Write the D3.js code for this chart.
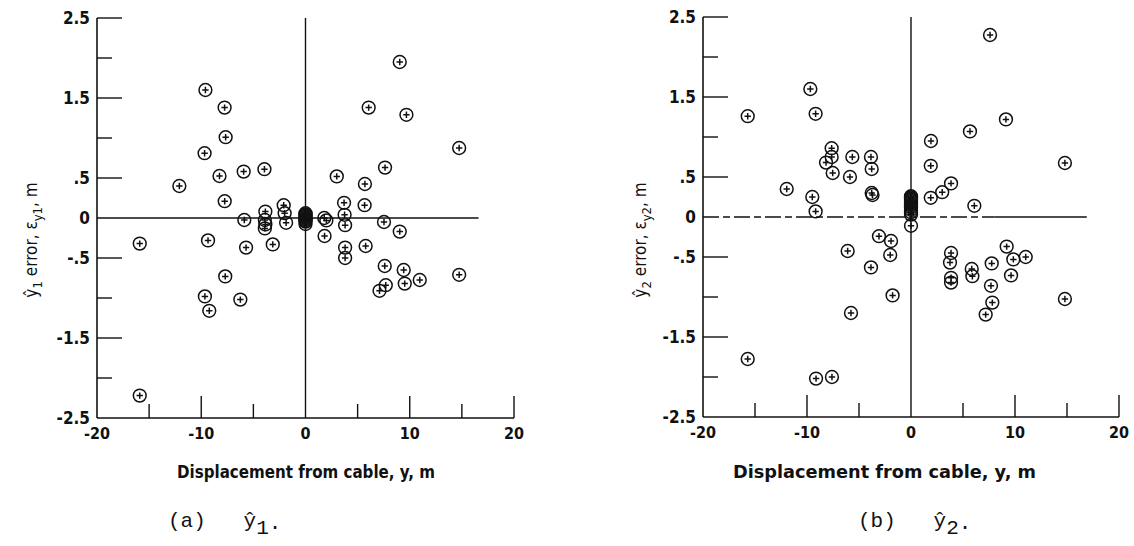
<!DOCTYPE html>
<html>
<head>
<meta charset="utf-8">
<script src="https://cdn.jsdelivr.net/npm/d3@7"></script>
<style>
  html, body { margin: 0; padding: 0; background: #fff; }
  svg { display: block; }
  .lbl { font-family: 'Liberation Sans Narrow', 'DejaVu Sans Condensed', 'Arial Narrow', sans-serif; font-weight: bold; fill: #111; }
  .ttl { font-family: 'DejaVu Sans Condensed', 'Liberation Sans Narrow', sans-serif; font-weight: normal; fill: #111; }
  .cap { font-family: 'Liberation Mono', 'DejaVu Sans Mono', monospace; fill: #111; }
</style>
</head>
<body>
<svg id="chart" width="1134" height="546"></svg>
<script>
// Displacement from cable (m) and estimator error (m) for y-hat 1
const y1Disp = [
  -9.6, -7.76, -7.66, -9.68, -8.25, -5.93, -3.94, -12.1, -7.75, -5.87,
  -3.85, -3.9, -3.85, -3.9, -2.09, -2.0, -1.86, -15.9, -9.35, -5.7,
  -3.14, -7.7, -9.65, -6.25, -9.23, -15.9,
  0, 0, 0, 0, 0, 0, 0, 0, 0,
  1.8, 2.0, 1.83, 3.0, 3.7, 3.75, 3.8, 3.8, 3.8, 5.7,
  5.67, 5.77, 6.06, 9.04, 9.68, 14.74, 7.63, 7.53, 9.04, 7.6,
  9.42, 7.7, 7.1, 9.52, 10.96, 14.74
];
const y1Err = [
  1.60, 1.38, 1.01, 0.81, 0.525, 0.58, 0.61, 0.40, 0.21, -0.025,
  0.08, -0.025, -0.08, -0.13, 0.16, 0.06, -0.06, -0.32, -0.28, -0.37,
  -0.33, -0.73, -0.98, -1.02, -1.16, -2.22,
  0.06, 0.045, 0.03, 0.015, 0.0, -0.015, -0.03, -0.045, -0.075,
  0.0, -0.03, -0.225, 0.52, 0.19, 0.04, -0.09, -0.37, -0.50, 0.425,
  0.16, -0.35, 1.38, 1.95, 1.29, 0.875, 0.63, -0.05, -0.17, -0.6,
  -0.65, -0.84, -0.91, -0.82, -0.775, -0.71
];

// Displacement from cable (m) and estimator error (m) for y-hat 2
const y2Disp = [
  -9.68, -9.17, -15.7, -7.63, -7.63, -8.17, -5.64, -3.85, -3.78, -7.53,
  -5.87, -11.95, -9.49, -9.17, -3.78, -3.7, -3.08, -1.92, -2.0, -6.09,
  -3.85, -1.77, -5.77, -15.7, -9.13, -7.6,
  0, 0, 0, 0, 0, 0, 0, 0, 0, 0, 0, 0, 0,
  1.92, 1.9, 3.85, 3.0, 1.9, 6.09, 5.67, 9.13, 7.6, 14.8,
  3.85, 3.75, 3.85, 3.85, 5.84, 5.9, 7.76, 9.2, 9.84, 11.03,
  9.62, 7.69, 7.82, 7.18, 14.8
];
const y2Err = [
  1.60, 1.29, 1.26, 0.86, 0.75, 0.68, 0.75, 0.75, 0.60, 0.55,
  0.50, 0.35, 0.25, 0.07, 0.30, 0.275, -0.24, -0.30, -0.475, -0.425,
  -0.63, -0.98, -1.2, -1.775, -2.02, -2.0,
  0.26, 0.245, 0.23, 0.215, 0.20, 0.18, 0.16, 0.14, 0.12, 0.09, 0.06, 0.03, -0.11,
  0.95, 0.64, 0.42, 0.31, 0.24, 0.14, 1.07, 1.22, 2.275, 0.675,
  -0.45, -0.57, -0.76, -0.82, -0.65, -0.74, -0.58, -0.37, -0.53, -0.50,
  -0.73, -0.86, -1.07, -1.22, -1.025
];

// Axis ticks and labels
const xTickLabels = [-20, -10, 0, 10, 20];
const xMajorTicks = [-10, 10, 20];
const xMinorTicks = [-15, -5, 5, 15];
const yTickLabels = [2.5, 1.5, 0.5, 0, -0.5, -1.5, -2.5];
const yMajorTicks = [2.5, 1.5, 0.5, -0.5, -1.5];
const yMinorTicks = [2, 1, -1, -2];

const xTitle = "Displacement from cable, y, m";

const svg = d3.select("#chart");

// "-.5", ".5", "1.5" style labels without leading zero
const fmtY = v => v === 0 ? "0" : String(v).replace("0.", ".");

function drawPanel(opt) {
  const x = d3.scaleLinear().domain([-20, 20]).range([opt.left, opt.right]);
  const y = d3.scaleLinear().domain([-2.5, 2.5]).range([opt.bottom, opt.top]);
  const g = svg.append("g");
  const ink = "#111";

  // frame: left and bottom axis lines
  g.append("line").attr("x1", x(-20)).attr("x2", x(-20)).attr("y1", y(2.5)).attr("y2", y(-2.5))
    .attr("stroke", ink).attr("stroke-width", 1.6);
  g.append("line").attr("x1", x(-20)).attr("x2", x(20)).attr("y1", y(-2.5)).attr("y2", y(-2.5))
    .attr("stroke", ink).attr("stroke-width", 1.6);

  // zero reference lines
  g.append("line").attr("x1", x(0)).attr("x2", x(0)).attr("y1", y(2.5)).attr("y2", y(-2.5))
    .attr("stroke", ink).attr("stroke-width", 1.4);
  if (opt.dashedZero) {
    g.append("line").attr("x1", x(-20)).attr("x2", x(8)).attr("y1", y(0)).attr("y2", y(0))
      .attr("stroke", ink).attr("stroke-width", 1.3).attr("stroke-dasharray", "16,4,7,4");
    g.append("line").attr("x1", x(8)).attr("x2", x(opt.zeroEnd)).attr("y1", y(0)).attr("y2", y(0))
      .attr("stroke", ink).attr("stroke-width", 1.3);
  } else {
    g.append("line").attr("x1", x(-20)).attr("x2", x(opt.zeroEnd)).attr("y1", y(0)).attr("y2", y(0))
      .attr("stroke", ink).attr("stroke-width", 1.4);
  }

  // inward y ticks
  g.selectAll(".ymaj").data(yMajorTicks).join("line")
    .attr("x1", x(-20)).attr("x2", x(-20) + 25).attr("y1", d => y(d)).attr("y2", d => y(d))
    .attr("stroke", ink).attr("stroke-width", 1.4);
  g.selectAll(".ymin").data(yMinorTicks).join("line")
    .attr("x1", x(-20)).attr("x2", x(-20) + 15).attr("y1", d => y(d)).attr("y2", d => y(d))
    .attr("stroke", ink).attr("stroke-width", 1.4);
  // inward x ticks
  g.selectAll(".xmaj").data(xMajorTicks).join("line")
    .attr("x1", d => x(d)).attr("x2", d => x(d)).attr("y1", y(-2.5)).attr("y2", y(-2.5) - 22)
    .attr("stroke", ink).attr("stroke-width", 1.4);
  g.selectAll(".xmin").data(xMinorTicks).join("line")
    .attr("x1", d => x(d)).attr("x2", d => x(d)).attr("y1", y(-2.5)).attr("y2", y(-2.5) - 14)
    .attr("stroke", ink).attr("stroke-width", 1.4);

  // tick labels
  g.selectAll(".ylab").data(yTickLabels).join("text").attr("class", "lbl")
    .attr("x", x(-20) - 7).attr("y", d => y(d)).attr("dy", "0.36em")
    .attr("text-anchor", "end").attr("font-size", 17).text(fmtY);
  g.selectAll(".xlab").data(xTickLabels).join("text").attr("class", "lbl")
    .attr("x", d => x(d)).attr("y", y(-2.5) + 21)
    .attr("text-anchor", "middle").attr("font-size", 16).text(d => String(d));

  // x axis title
  g.append("text").attr("class", "lbl")
    .attr("x", (opt.xTitleFrom + opt.xTitleTo) / 2).attr("y", 478)
    .attr("text-anchor", "middle").attr("font-size", 17)
    .attr("textLength", opt.xTitleTo - opt.xTitleFrom).attr("lengthAdjust", "spacingAndGlyphs")
    .text(xTitle);

  // y axis title (rotated) with subscripts
  const yt = g.append("text").attr("class", "ttl")
    .attr("transform", `translate(${opt.yTitleX},${opt.yTitleY}) rotate(-90)`)
    .attr("text-anchor", "middle").attr("font-size", 17);
  yt.append("tspan").text("\u0177");
  yt.append("tspan").attr("dy", 5).attr("font-size", 13).text(opt.sub);
  yt.append("tspan").attr("dy", -5).text(" error, \u03b5");
  yt.append("tspan").attr("dy", 5).attr("font-size", 13).text("y" + opt.sub);
  yt.append("tspan").attr("dy", -5).text(", m");

  // caption
  const cap = g.append("text").attr("class", "cap")
    .attr("x", opt.capX).attr("y", 527).attr("font-size", 21);
  cap.append("tspan").text("(" + opt.letter + ")\u00a0\u00a0\u00a0\u0177");
  cap.append("tspan").attr("dy", 7).text(opt.sub);
  cap.append("tspan").attr("dy", -5).text(".");

  // data points: circle with a plus inside
  const pts = d3.zip(opt.xs, opt.ys);
  const mk = g.append("g").selectAll("g").data(pts).join("g")
    .attr("transform", d => `translate(${x(d[0])},${y(d[1])})`);
  mk.append("circle").attr("r", 6.4).attr("fill", "none").attr("stroke", ink).attr("stroke-width", 1.5);
  mk.append("path").attr("d", "M-3.2,0H3.2M0,-3.2V3.2").attr("stroke", ink).attr("stroke-width", 1.5);
}

drawPanel({
  left: 97, right: 514, top: 18, bottom: 418, zeroEnd: 16.6, dashedZero: false,
  xs: y1Disp, ys: y1Err, sub: "1", letter: "a",
  xTitleFrom: 177, xTitleTo: 435, yTitleX: 37, yTitleY: 240, capX: 168
});
drawPanel({
  left: 703, right: 1119, top: 17, bottom: 417, zeroEnd: 16.9, dashedZero: true,
  xs: y2Disp, ys: y2Err, sub: "2", letter: "b",
  xTitleFrom: 733, xTitleTo: 1036, yTitleX: 646, yTitleY: 240, capX: 858
});
</script>
</body>
</html>
